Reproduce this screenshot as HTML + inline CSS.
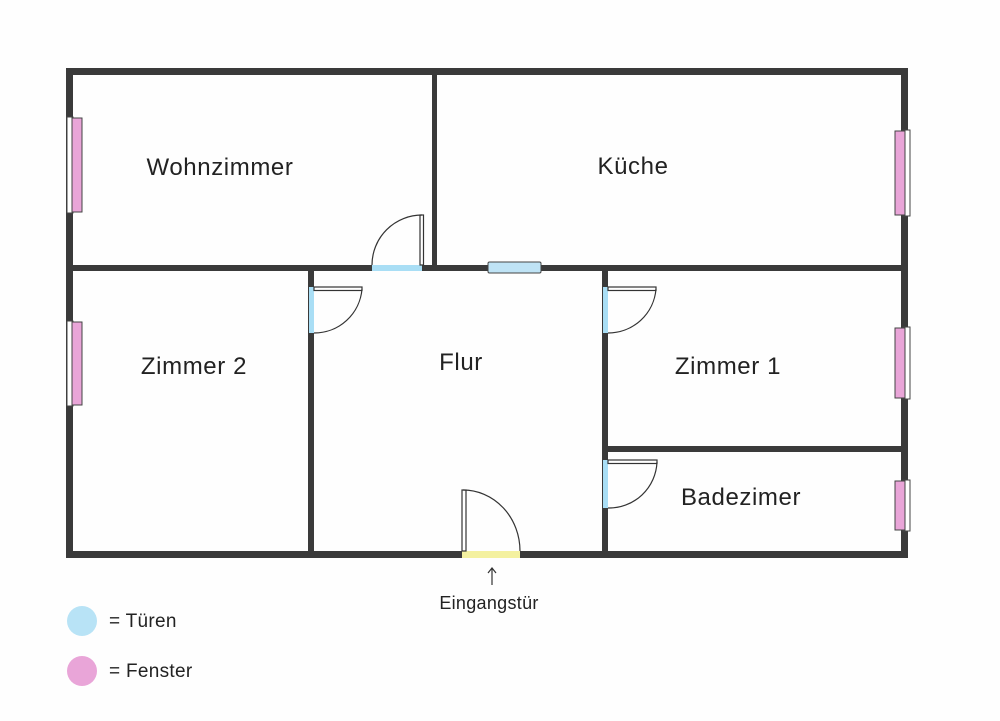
<!DOCTYPE html>
<html><head><style>
body{margin:0;background:#fff;}
svg{display:block}
text{font-family:"Liberation Sans","DejaVu Sans",sans-serif;fill:#222}
</style></head><body>
<svg width="1000" height="721" viewBox="0 0 1000 721">
<rect width="1000" height="721" fill="#fefefe"/>
<g fill="#3a3a3a">
<rect x="66" y="68" width="842" height="7"/>
<rect x="66" y="551" width="842" height="7"/>
<rect x="66" y="68" width="7" height="490"/>
<rect x="901" y="68" width="7" height="490"/>
<rect x="66" y="265" width="842" height="6"/>
<rect x="432" y="75" width="5" height="192"/>
<rect x="308" y="268" width="6" height="285"/>
<rect x="602" y="268" width="6" height="285"/>
<rect x="605" y="446" width="298" height="6"/>
</g>
<rect x="372" y="265" width="50" height="6" fill="#a9def5"/>
<rect x="309" y="287" width="5" height="46" fill="#a9def5"/>
<rect x="603" y="287" width="5" height="46" fill="#a9def5"/>
<rect x="603" y="460" width="5" height="48" fill="#a9def5"/>
<rect x="462" y="551" width="58" height="7" fill="#f4f1a0"/>
<g fill="#fff" stroke="#333" stroke-width="1.2">
<rect x="420" y="215" width="3.5" height="50"/>
<path d="M372 265 A50 50 0 0 1 422 215" fill="none"/>
<rect x="314" y="287" width="48" height="3.5"/>
<path d="M362 289 A48 48 0 0 1 314 333" fill="none"/>
<rect x="608" y="287" width="48" height="3.5"/>
<path d="M656 289 A48 48 0 0 1 608 333" fill="none"/>
<rect x="608" y="460" width="49" height="3.5"/>
<path d="M657 462 A48 48 0 0 1 608 508" fill="none"/>
<rect x="462" y="490" width="4" height="61"/>
<path d="M463 490 A57 61 0 0 1 520 551" fill="none"/>
</g>
<rect x="488" y="262" width="53" height="11" rx="1.5" fill="#bfe3f5" stroke="#444" stroke-width="1"/>
<g stroke="#444" stroke-width="1">
<rect x="67" y="117" width="6" height="96" fill="#fff"/>
<rect x="72" y="118" width="10" height="94" fill="#e9a5d8"/>
<rect x="67" y="321" width="6" height="85" fill="#fff"/>
<rect x="72" y="322" width="10" height="83" fill="#e9a5d8"/>
<rect x="903" y="130" width="7" height="86" fill="#fff"/>
<rect x="895" y="131" width="10" height="84" fill="#e9a5d8"/>
<rect x="903" y="327" width="7" height="72" fill="#fff"/>
<rect x="895" y="328" width="10" height="70" fill="#e9a5d8"/>
<rect x="903" y="480" width="7" height="51" fill="#fff"/>
<rect x="895" y="481" width="10" height="49" fill="#e9a5d8"/>
</g>
<g font-size="24" text-anchor="middle" letter-spacing="0.6">
<text x="220" y="175">Wohnzimmer</text>
<text x="633" y="174">Küche</text>
<text x="194" y="374">Zimmer 2</text>
<text x="461" y="370">Flur</text>
<text x="728" y="374">Zimmer 1</text>
<text x="741" y="505">Badezimer</text>
</g>
<path d="M492 585 V569 M488 573 L492 568 L496 573" stroke="#333" stroke-width="1.2" fill="none"/>
<text x="489" y="609" font-size="18" text-anchor="middle" letter-spacing="0.3">Eingangstür</text>
<circle cx="82" cy="621" r="15" fill="#b8e3f6"/>
<circle cx="82" cy="671" r="15" fill="#e9a5d8"/>
<text x="109" y="627" font-size="19" letter-spacing="0.3">= Türen</text>
<text x="109" y="677" font-size="19" letter-spacing="0.3">= Fenster</text>
</svg>
</body></html>
